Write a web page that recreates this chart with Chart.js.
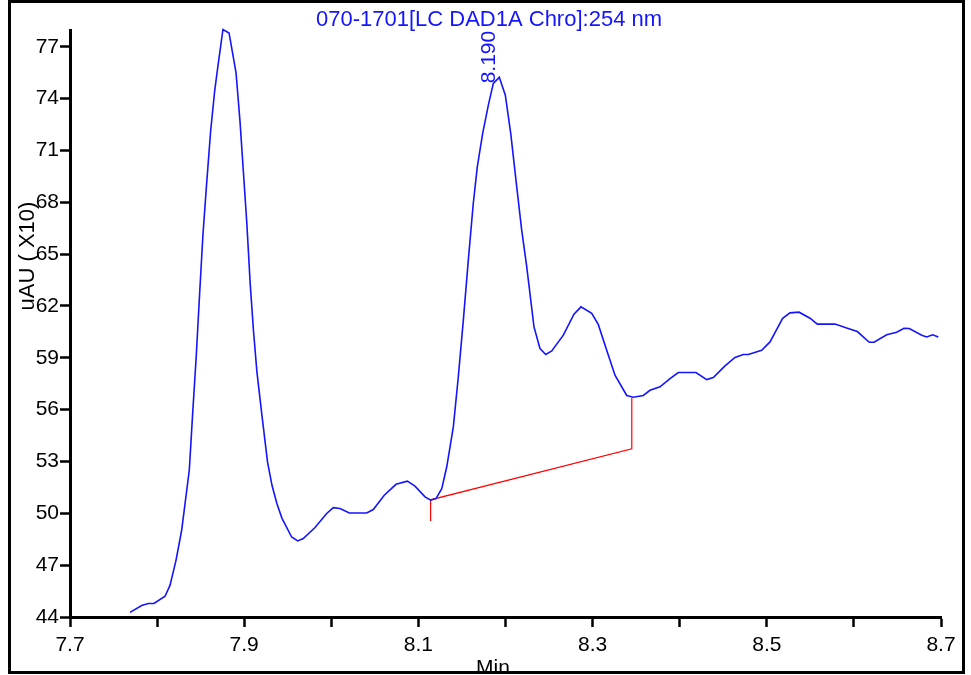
<!DOCTYPE html>
<html>
<head>
<meta charset="utf-8">
<script src="https://cdn.jsdelivr.net/npm/chart.js@4/dist/chart.umd.min.js"></script>
<style>
  html, body { margin: 0; padding: 0; background: #fff; }
</style>
</head>
<body>
<canvas id="chromChart" width="971" height="675"></canvas>
<script>
// Chromatogram trace (time in min, signal in uAU x10)
const times = [7.7689, 7.7823, 7.7899, 7.7964, 7.8091, 7.8148, 7.8217, 7.8282, 7.8370, 7.8409,
  7.8448, 7.8486, 7.8525, 7.8564, 7.8614, 7.8661, 7.8699, 7.8756, 7.8826, 7.8906,
  7.8952, 7.8991, 7.9030, 7.9069, 7.9107, 7.9146, 7.9204, 7.9268, 7.9319, 7.9376,
  7.9434, 7.9545, 7.9614, 7.9678, 7.9813, 7.9947, 8.0023, 8.0100, 8.0207, 8.0406,
  8.0482, 8.0608, 8.0743, 8.0873, 8.0961, 8.1076, 8.1141, 8.1202, 8.1268, 8.1325,
  8.1401, 8.1458, 8.1516, 8.1573, 8.1630, 8.1676, 8.1738, 8.1803, 8.1860, 8.1929,
  8.1998, 8.2060, 8.2129, 8.2186, 8.2244, 8.2327, 8.2396, 8.2462, 8.2531, 8.2664,
  8.2786, 8.2867, 8.2990, 8.3065, 8.3162, 8.3257, 8.3392, 8.3467, 8.3582, 8.3659,
  8.3774, 8.3889, 8.3984, 8.4187, 8.4310, 8.4386, 8.4520, 8.4635, 8.4730, 8.4788,
  8.4941, 8.5037, 8.5114, 8.5182, 8.5266, 8.5370, 8.5496, 8.5580, 8.5783, 8.5917,
  8.6039, 8.6177, 8.6231, 8.6377, 8.6491, 8.6575, 8.6636, 8.6779, 8.6836, 8.6905, 8.6969];
const signal = [44.27, 44.66, 44.78, 44.78, 45.20, 45.83, 47.28, 49.02, 52.52, 55.84,
  58.97, 62.50, 66.02, 68.76, 72.08, 74.44, 75.91, 78.00, 77.80, 75.51,
  72.67, 69.74, 66.80, 63.28, 60.54, 58.19, 55.65, 52.96, 51.62, 50.56,
  49.71, 48.63, 48.40, 48.54, 49.18, 49.99, 50.33, 50.28, 50.02, 50.02,
  50.22, 51.05, 51.68, 51.86, 51.57, 50.95, 50.76, 50.85, 51.43, 52.68,
  55.00, 57.89, 61.18, 64.65, 67.93, 70.05, 71.99, 73.62, 74.88, 75.23,
  74.20, 71.99, 68.89, 66.39, 64.26, 60.79, 59.54, 59.19, 59.40, 60.31,
  61.52, 61.95, 61.57, 60.93, 59.44, 57.99, 56.82, 56.72, 56.82, 57.12,
  57.32, 57.80, 58.15, 58.15, 57.74, 57.86, 58.53, 59.02, 59.19, 59.19,
  59.44, 59.92, 60.64, 61.28, 61.60, 61.64, 61.29, 60.95, 60.95, 60.73,
  60.52, 59.90, 59.90, 60.33, 60.48, 60.71, 60.70, 60.31, 60.21, 60.33, 60.21];

// Integration baseline for the 8.190 peak (drop lines + baseline)
const baseTimes = [8.114, 8.114, 8.345, 8.345];
const baseValues = [49.56, 50.78, 53.73, 56.68];

const peakTime = 8.190;
const peakLabel = '8.190';

const xTicks = [7.7, 7.8, 7.9, 8.0, 8.1, 8.2, 8.3, 8.4, 8.5, 8.6, 8.7];
const xLabels = [7.7, 7.9, 8.1, 8.3, 8.5, 8.7];
const yTicks = [44, 47, 50, 53, 56, 59, 62, 65, 68, 71, 74, 77];

const titleText = '070-1701[LC DAD1A Chro]:254 nm';
const FONT = '"Liberation Sans", Arial, sans-serif';

const decorPlugin = {
  id: 'decor',
  afterDraw(chart) {
    const ctx = chart.ctx;
    const xs = chart.scales.x, ys = chart.scales.y;
    ctx.save();
    // title
    ctx.fillStyle = '#1414ff';
    ctx.font = '22px ' + FONT;
    ctx.textAlign = 'center';
    ctx.textBaseline = 'alphabetic';
    ctx.fillText(titleText, 489, 26);

    // peak label, rotated, sits on the apex
    let apex = 0;
    times.forEach((t, i) => { if (Math.abs(t - peakTime) < 0.01) apex = Math.max(apex, signal[i]); });
    ctx.font = '21px ' + FONT;
    ctx.save();
    ctx.translate(xs.getPixelForValue(peakTime) - 2, ys.getPixelForValue(apex) + 6);
    ctx.rotate(-Math.PI / 2);
    ctx.textAlign = 'left';
    ctx.fillText(peakLabel, 0, 0);
    ctx.restore();

    // axis titles
    ctx.fillStyle = '#000';
    ctx.fillText('Min', 493, 674);
    ctx.font = '22px ' + FONT;
    ctx.save();
    ctx.translate(34, 256);
    ctx.rotate(-Math.PI / 2);
    ctx.fillText('uAU ( X10)', 0, 0);
    ctx.restore();

    // outer frame
    ctx.strokeStyle = '#000';
    ctx.lineWidth = 3;
    ctx.strokeRect(9.5, 1.5, 954, 671);
    ctx.restore();
  }
};

const ctx = document.getElementById('chromChart').getContext('2d');
const chromChart = new Chart(ctx, {
  type: 'scatter',
  data: {
    datasets: [{
      label: 'Signal',
      data: times.map((t, i) => ({ x: t, y: signal[i] })),
      showLine: true,
      borderColor: '#1414ff',
      borderWidth: 1.6,
      pointRadius: 0,
      tension: 0,
      clip: false
    }, {
      label: 'Baseline',
      data: baseTimes.map((t, i) => ({ x: t, y: baseValues[i] })),
      showLine: true,
      borderColor: '#ff0000',
      borderWidth: 1.2,
      pointRadius: 0,
      tension: 0
    }]
  },
  options: {
    responsive: false,
    animation: false,
    layout: { padding: { top: 30, right: 30, left: 0, bottom: 0 }, autoPadding: false },
    plugins: {
      legend: { display: false },
      tooltip: { enabled: false }
    },
    scales: {
      x: {
        type: 'linear',
        min: 7.7,
        max: 8.7,
        afterBuildTicks: axis => { axis.ticks = xTicks.map(v => ({ value: v })); },
        afterFit: axis => { axis.height = 58; },
        border: { display: true, color: '#000', width: 3 },
        grid: { drawOnChartArea: false, drawTicks: true, tickLength: 10, color: '#000', tickWidth: 2.5 },
        ticks: {
          color: '#000',
          font: { family: FONT, size: 21 },
          padding: 6,
          maxRotation: 0,
          autoSkip: false,
          callback: v => xLabels.some(l => Math.abs(l - v) < 1e-6) ? v.toFixed(1) : ''
        }
      },
      y: {
        min: 44,
        max: 77.97,
        afterBuildTicks: axis => { axis.ticks = yTicks.map(v => ({ value: v })); },
        afterFit: axis => { axis.width = 70; },
        border: { display: true, color: '#000', width: 3 },
        grid: { drawOnChartArea: false, drawTicks: true, tickLength: 10, color: '#000', tickWidth: 2.5 },
        ticks: {
          color: '#000',
          font: { family: FONT, size: 21 },
          padding: 1,
          autoSkip: false,
          callback: v => String(v)
        }
      }
    }
  },
  plugins: [decorPlugin]
});
</script>
</body>
</html>
